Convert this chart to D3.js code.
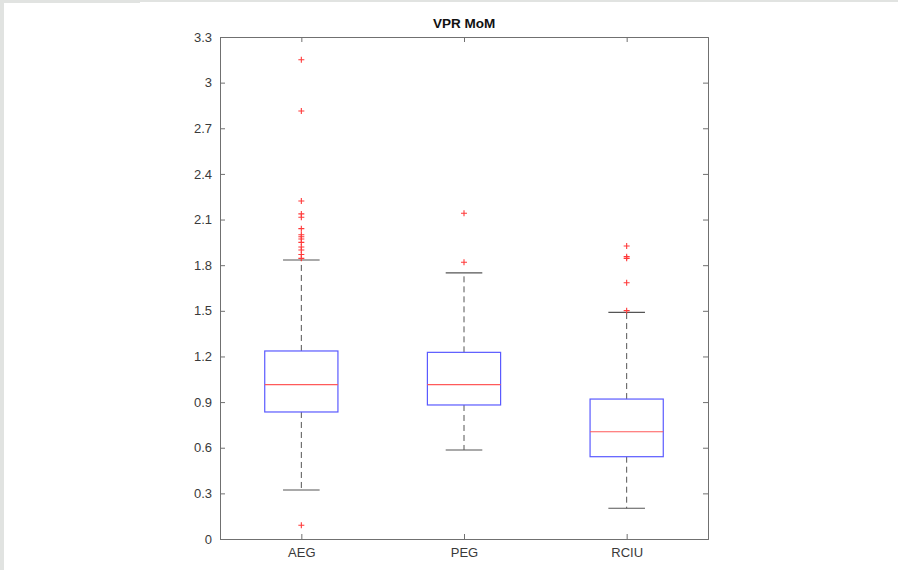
<!DOCTYPE html>
<html><head><meta charset="utf-8">
<script src="https://cdn.jsdelivr.net/npm/d3@7"></script>
<style>
html,body{margin:0;padding:0;background:#fff;}
svg{display:block;font-family:"Liberation Sans",Arial,sans-serif;}
</style></head>
<body><svg id="c" width="898" height="570"></svg>
<script>
const categories = ["AEG","PEG","RCIU"];
const q1 = [0.835, 0.881, 0.541];
const medians = [1.015, 1.015, 0.705];
const q3 = [1.236, 1.227, 0.920];
const whiskerLow = [0.322, 0.585, 0.202];
const whiskerHigh = [1.834, 1.749, 1.490];
const outliersAEG = [3.15, 2.814, 2.222, 2.137, 2.115, 2.04, 2.0, 1.987, 1.972, 1.95, 1.92, 1.90, 1.87, 1.845, 0.09];
const outliersPEG = [2.141, 1.819];
const outliersRCIU = [1.926, 1.856, 1.845, 1.685, 1.501];
const outliers = [outliersAEG, outliersPEG, outliersRCIU];
const yTicks = [0,0.3,0.6,0.9,1.2,1.5,1.8,2.1,2.4,2.7,3,3.3];
const title = "VPR MoM";

const svg = d3.select("#c");
// screenshot frame
svg.append("rect").attr("x",0).attr("y",0).attr("width",4).attr("height",570).attr("fill","#e1e3e1");
svg.append("rect").attr("x",0).attr("y",0).attr("width",140).attr("height",3).attr("fill","#e1e3e1");
svg.append("rect").attr("x",140).attr("y",0).attr("width",758).attr("height",2).attr("fill","#e1e3e1");

const L=220, R=708, T=37, B=539;
const x = d3.scaleLinear().domain([0.5,3.5]).range([L,R]);
const y = d3.scaleLinear().domain([0,3.3]).range([B,T]);
const axCol = "#707070", txtCol = "#3a3a3a";

const g = svg.append("g");
const yAxis = d3.axisLeft(y).tickValues(yTicks).tickSize(-5).tickPadding(8).tickFormat(d=>d3.format("~g")(d));
const ga = g.append("g").attr("transform",`translate(${L},0)`).call(yAxis);
const yAxisR = d3.axisRight(y).tickValues(yTicks).tickSize(-5).tickFormat("");
const gr = g.append("g").attr("transform",`translate(${R},0)`).call(yAxisR);
const xAxis = d3.axisBottom(x).tickValues([1,2,3]).tickSize(-5).tickPadding(9).tickFormat(d=>categories[d-1]);
const gx = g.append("g").attr("transform",`translate(0,${B})`).call(xAxis);
const xAxisT = d3.axisTop(x).tickValues([1,2,3]).tickSize(-5).tickFormat("");
const gt = g.append("g").attr("transform",`translate(0,${T})`).call(xAxisT);
[ga,gr,gx,gt].forEach(a=>{
  a.select(".domain").attr("stroke",axCol).attr("stroke-width",1);
  a.selectAll(".tick line").attr("stroke",axCol);
  a.selectAll(".tick text").attr("fill",txtCol).attr("font-size",13);
});

svg.append("text").attr("x",(L+R)/2).attr("y",T-9).attr("text-anchor","middle")
  .attr("font-size",13.5).attr("font-weight","bold").attr("fill","#111").text(title);

const bw = 0.45, cw = 0.225;
categories.forEach((c,i)=>{
  const cx = x(i+1);
  const hw = (x(1+bw/2)-x(1));
  const cwp = (x(1+cw/2)-x(1));
  svg.append("line").attr("x1",cx).attr("x2",cx).attr("y1",y(q3[i])).attr("y2",y(whiskerHigh[i]))
    .attr("stroke","#555").attr("stroke-dasharray","6,4");
  svg.append("line").attr("x1",cx).attr("x2",cx).attr("y1",y(q1[i])).attr("y2",y(whiskerLow[i]))
    .attr("stroke","#555").attr("stroke-dasharray","6,4");
  [whiskerHigh[i],whiskerLow[i]].forEach(v=>{
    svg.append("line").attr("x1",cx-cwp).attr("x2",cx+cwp).attr("y1",y(v)).attr("y2",y(v))
      .attr("stroke","#555").attr("stroke-width",1.2);
  });
  svg.append("rect").attr("x",cx-hw).attr("y",y(q3[i])).attr("width",2*hw).attr("height",y(q1[i])-y(q3[i]))
    .attr("fill","none").attr("stroke","#5a5aff").attr("stroke-width",1.2);
  svg.append("line").attr("x1",cx-hw).attr("x2",cx+hw).attr("y1",y(medians[i])).attr("y2",y(medians[i]))
    .attr("stroke","#ff5a5a").attr("stroke-width",1.2);
  outliers[i].forEach(v=>{
    const py = y(v);
    svg.append("path").attr("d",`M${cx-3},${py}H${cx+3}M${cx},${py-3}V${py+3}`)
      .attr("stroke","#ff3a3a").attr("stroke-width",1.1).attr("fill","none");
  });
});
</script></body></html>
